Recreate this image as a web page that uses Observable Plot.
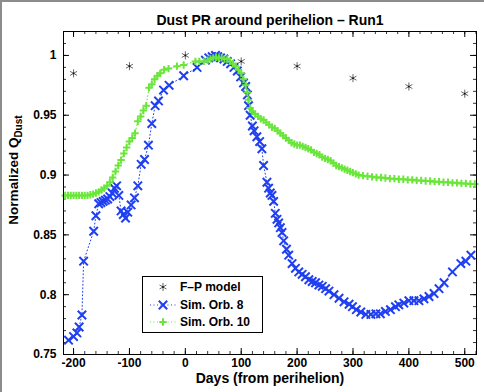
<!DOCTYPE html>
<html><head><meta charset="utf-8">
<script src="https://cdn.jsdelivr.net/npm/d3@7"></script>
<script src="https://cdn.jsdelivr.net/npm/@observablehq/plot@0.6"></script>
<style>
body{margin:0;background:#fff;}
#wrap{position:relative;width:484px;height:392px;overflow:hidden;}
#border{position:absolute;left:0;top:0;width:484px;height:392px;box-sizing:border-box;border-left:2px solid #8c8c8c;border-top:2px solid #8c8c8c;pointer-events:none;}
</style></head><body><div id="wrap"><div id="border"></div></div>
<script>
const title = "Dust PR around perihelion \u2013 Run1";
const xLabel = "Days (from perihelion)";
const yLabelMain = "Normalized Q";
const yLabelSub = "Dust";
const seriesNames = ["F\u2013P model", "Sim. Orb. 8", "Sim. Orb. 10"];

const xTicks = [-200, -100, 0, 100, 200, 300, 400, 500];
const xTickLabels = ["-200", "-100", "0", "100", "200", "300", "400", "500"];
const yTicks = [0.75, 0.8, 0.85, 0.9, 0.95, 1];
const yTickLabels = ["0.75", "0.8", "0.85", "0.9", "0.95", "1"];

const fpDays = [-200, -100, 0, 100, 200, 300, 400, 500];
const fpValues = [0.985, 0.991, 1.0, 0.995, 0.991, 0.981, 0.974, 0.968];

const orb8Days = [-209,-200,-194,-190,-185,-182,-164,-160,-155,-151,-147,-143,-139,-135,-131,-127,-123,-119,-115,-111,-107,-103,-97,-91,-85,-79,-73,-66,-60,-54,-48,-39,-29,-3,21,36,42,48,54,58,63,69,75,81,87,93,99,104,108,111,113,116,120,123,128,133,137,140,146,149,152,155,158,161,164,167,170,173,176,181,185,191,197,203,209,215,221,227,233,239,245,251,257,266,275,284,293,299,306,314,323,332,341,349,358,367,376,382,391,400,409,418,427,436,445,454,463,478,493,502,511];
const orb8Values = [0.762,0.765,0.768,0.773,0.783,0.828,0.853,0.866,0.876,0.877,0.878,0.879,0.880,0.882,0.885,0.889,0.891,0.883,0.870,0.867,0.864,0.869,0.875,0.881,0.891,0.909,0.913,0.925,0.943,0.958,0.962,0.971,0.975,0.983,0.990,0.996,0.998,0.999,1.000,0.999,0.998,0.997,0.995,0.993,0.990,0.987,0.982,0.977,0.974,0.967,0.958,0.950,0.941,0.937,0.932,0.928,0.922,0.908,0.894,0.889,0.885,0.883,0.878,0.868,0.863,0.860,0.856,0.852,0.845,0.838,0.833,0.826,0.822,0.819,0.817,0.815,0.8125,0.811,0.810,0.808,0.807,0.805,0.803,0.800,0.797,0.794,0.792,0.790,0.7875,0.7855,0.7835,0.7835,0.784,0.784,0.786,0.7875,0.790,0.7915,0.793,0.795,0.795,0.795,0.7965,0.7985,0.801,0.805,0.810,0.819,0.826,0.828,0.833];

const orb10Days = [-215,-210,-205,-200,-195,-190,-185,-180,-175,-170,-165,-160,-155,-150,-145,-140,-135,-130,-125,-120,-115,-110,-105,-100,-95,-90,-85,-80,-75,-70,-65,-60,-55,-50,-45,-38,-30,-15,-3,18,25,33,40,45,50,55,60,65,70,75,80,85,90,95,100,104,108,111,113,116,120,125,130,135,140,145,150,155,160,165,170,175,180,185,190,195,200,205,210,215,220,225,230,235,240,245,250,255,260,265,270,275,280,285,290,295,300,305,310,318,326,334,342,350,358,366,374,382,390,398,406,414,422,430,438,446,454,462,470,478,486,494,502,510,518];
const orb10Values = [0.883,0.883,0.883,0.883,0.883,0.883,0.883,0.883,0.883,0.8835,0.884,0.885,0.886,0.8875,0.889,0.891,0.894,0.898,0.903,0.908,0.9125,0.918,0.923,0.928,0.931,0.935,0.945,0.949,0.954,0.958,0.973,0.976,0.980,0.983,0.985,0.988,0.989,0.991,0.992,0.995,0.995,0.995,0.996,0.997,0.998,0.9985,0.998,0.998,0.997,0.997,0.995,0.993,0.991,0.988,0.985,0.980,0.975,0.969,0.963,0.956,0.953,0.951,0.949,0.947,0.946,0.944,0.942,0.940,0.939,0.937,0.935,0.933,0.931,0.929,0.927,0.926,0.925,0.925,0.924,0.923,0.922,0.921,0.919,0.918,0.917,0.915,0.914,0.913,0.912,0.910,0.908,0.907,0.906,0.905,0.904,0.903,0.902,0.901,0.900,0.8995,0.899,0.8985,0.898,0.898,0.8975,0.897,0.897,0.8965,0.8965,0.896,0.896,0.8955,0.8955,0.895,0.895,0.8945,0.8945,0.894,0.894,0.8935,0.8935,0.893,0.893,0.8925,0.8925];

const xMinor = d3.range(-200, 521, 20);
const yMinor = d3.range(75, 102, 1).map(v => v / 100);

const fp = fpDays.map((d, i) => ({day: d, value: fpValues[i]}));
const orb8 = orb8Days.map((d, i) => ({day: d, value: orb8Values[i]}));
const orb10 = orb10Days.map((d, i) => ({day: d, value: orb10Values[i]}));

const BLUE = "#1f3ff0", GREEN = "#6ae63a", STAR = "#666";
const xDom = [-218, 521], yDom = [0.75, 1.02];
const xMaj = 10.7, xMin = 5.4, yMaj = 0.005, yMin = 0.0025;
const FONT = "'Liberation Sans', Arial, Helvetica, sans-serif";

const plot = Plot.plot({
  width: 484, height: 392,
  marginLeft: 63, marginRight: 8, marginTop: 31, marginBottom: 38,
  x: {domain: xDom, axis: null},
  y: {domain: yDom, axis: null},
  style: {fontFamily: FONT, fontWeight: "bold", fontSize: "12px", background: "white", color: "black"},
  marks: [
    // minor ticks
    Plot.ruleX(xMinor, {x: d => d, y1: yDom[0], y2: yDom[0] + yMin, stroke: "black", strokeWidth: 0.8}),
    Plot.ruleX(xMinor, {x: d => d, y1: yDom[1], y2: yDom[1] - yMin, stroke: "black", strokeWidth: 0.8}),
    Plot.ruleY(yMinor, {y: d => d, x1: xDom[0], x2: xDom[0] + xMin, stroke: "black", strokeWidth: 0.8}),
    Plot.ruleY(yMinor, {y: d => d, x1: xDom[1], x2: xDom[1] - xMin, stroke: "black", strokeWidth: 0.8}),
    // major ticks
    Plot.ruleX(xTicks, {x: d => d, y1: yDom[0], y2: yDom[0] + yMaj, stroke: "black"}),
    Plot.ruleX(xTicks, {x: d => d, y1: yDom[1], y2: yDom[1] - yMaj, stroke: "black"}),
    Plot.ruleY(yTicks, {y: d => d, x1: xDom[0], x2: xDom[0] + xMaj, stroke: "black"}),
    Plot.ruleY(yTicks, {y: d => d, x1: xDom[1], x2: xDom[1] - xMaj, stroke: "black"}),
    // tick labels
    Plot.text(xTicks, {x: d => d, frameAnchor: "bottom", dy: 12.5, text: (d, i) => xTickLabels[i], fontSize: 12, fontWeight: "bold"}),
    Plot.text(yTicks, {y: d => d, frameAnchor: "left", dx: -7, textAnchor: "end", text: (d, i) => yTickLabels[i], fontSize: 12, fontWeight: "bold"}),
    // titles
    Plot.text([title], {text: d => d, frameAnchor: "top", dy: -16, fontSize: 14, fontWeight: "bold"}),
    Plot.text([xLabel], {text: d => d, frameAnchor: "bottom", dy: 28, fontSize: 14, fontWeight: "bold"}),
    // data
    Plot.dot(fp, {x: "day", y: "value", symbol: "asterisk", r: 3.8, stroke: STAR, strokeWidth: 1}),
    Plot.dot(fp, {x: "day", y: "value", r: 0.9, fill: "#111", stroke: "none"}),
    Plot.line(orb8, {x: "day", y: "value", stroke: BLUE, strokeWidth: 1, strokeDasharray: "1,2.5"}),
    Plot.dot(orb8, {x: "day", y: "value", symbol: "times", r: 3.9, stroke: BLUE, strokeWidth: 2}),
    Plot.line(orb10, {x: "day", y: "value", stroke: GREEN, strokeWidth: 1, strokeDasharray: "1,2.5"}),
    Plot.dot(orb10, {x: "day", y: "value", symbol: "plus", r: 2.5, stroke: GREEN, strokeWidth: 2}),
    Plot.frame({stroke: "black", strokeWidth: 1})
  ]
});
document.getElementById("wrap").prepend(plot);

// y-axis label with subscript, and legend
const svg = d3.select(plot);
const yl = svg.append("text")
  .attr("transform", "translate(18,170) rotate(-90)")
  .attr("text-anchor", "middle")
  .attr("font-family", FONT).attr("font-weight", "bold").attr("font-size", 13.5).attr("fill", "black");
yl.append("tspan").text(yLabelMain);
yl.append("tspan").attr("dy", 4).attr("font-size", 10).text(yLabelSub);

const lg = svg.append("g").attr("font-family", FONT).attr("font-weight", "bold").attr("font-size", 12)
  .attr("text-anchor", "start");
lg.append("rect").attr("x", 142.5).attr("y", 276.5).attr("width", 120).attr("height", 56)
  .attr("fill", "white").attr("stroke", "black").attr("stroke-width", 1);
const rows = [287, 305, 322];
const colors = [STAR, BLUE, GREEN];
rows.forEach((ry, i) => {
  if (i > 0) {
    lg.append("line").attr("x1", 150).attr("x2", 177).attr("y1", ry).attr("y2", ry)
      .attr("stroke", colors[i]).attr("stroke-width", 1).attr("stroke-dasharray", "1,2.5");
  }
  const sym = [d3.symbolAsterisk, d3.symbolTimes, d3.symbolPlus][i];
  const r = [3.8, 3.9, 2.5][i];
  lg.append("path").attr("d", d3.symbol(sym, Math.PI * r * r)())
    .attr("transform", `translate(163,${ry})`)
    .attr("fill", "none").attr("stroke", colors[i]).attr("stroke-width", i === 0 ? 1 : 2);
  if (i === 0) lg.append("circle").attr("cx", 163).attr("cy", ry).attr("r", 0.9).attr("fill", "#111");
  lg.append("text").attr("x", 180).attr("y", ry).attr("dy", "0.35em").attr("text-anchor", "start")
    .attr("fill", "black").text(seriesNames[i]);
});
</script>
</body></html>
